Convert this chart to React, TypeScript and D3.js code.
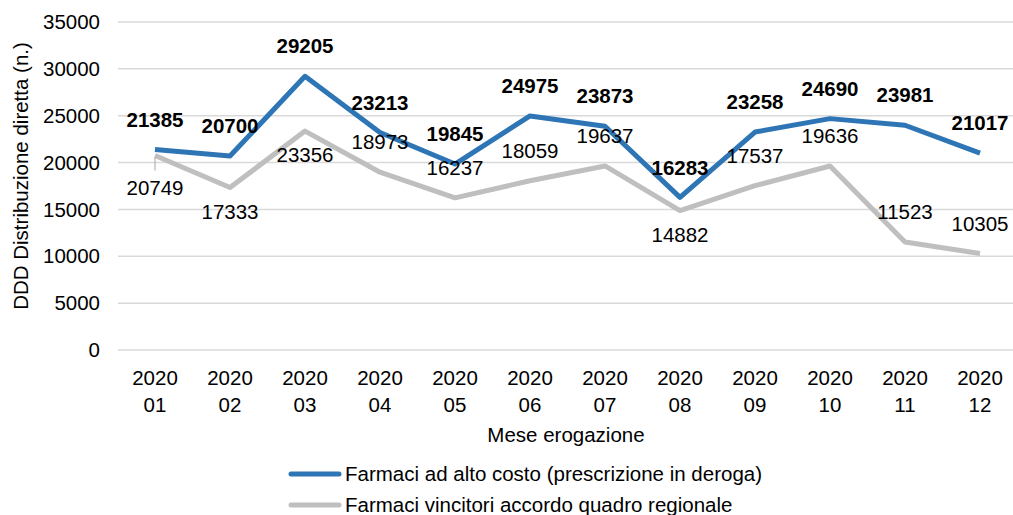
import React, { useEffect, useRef } from "react";
import * as d3 from "d3";

const months = ["01", "02", "03", "04", "05", "06", "07", "08", "09", "10", "11", "12"];
const year = "2020";
const altoCosto = [21385, 20700, 29205, 23213, 19845, 24975, 23873, 16283, 23258, 24690, 23981, 21017];
const vincitori = [20749, 17333, 23356, 18973, 16237, 18059, 19637, 14882, 17537, 19636, 11523, 10305];
// where Excel put the grey data labels
const vincitoriLabelPos = ["below", "below", "below", "above", "above", "above", "above", "below", "above", "above", "above", "above"];
const yTicks = [0, 5000, 10000, 15000, 20000, 25000, 30000, 35000];
const seriesNames = ["Farmaci ad alto costo (prescrizione in deroga)", "Farmaci vincitori accordo quadro regionale"];
const colors = ["#2E75B6", "#BFBFBF"];

export default function App() {
  const svgRef = useRef<SVGSVGElement>(null);

  useEffect(() => {
    const width = 1013;
    const font = "Liberation Sans, Arial, sans-serif";
    const fs = 20.5;
    const svg = d3.select(svgRef.current);
    svg.selectAll("*").remove();

    const x = d3.scalePoint<string>().domain(months).range([117.5, 1017.5]).padding(0.5);
    const y = d3.scaleLinear().domain([0, 35000]).range([350, 22]);

    // gridlines
    svg.append("g")
      .selectAll("line")
      .data(yTicks)
      .enter()
      .append("line")
      .attr("x1", 118)
      .attr("x2", width)
      .attr("y1", (d) => y(d))
      .attr("y2", (d) => y(d))
      .attr("stroke", "#D9D9D9")
      .attr("stroke-width", 1.5);

    // y tick labels
    svg.append("g")
      .selectAll("text")
      .data(yTicks)
      .enter()
      .append("text")
      .attr("x", 100)
      .attr("y", (d) => y(d))
      .attr("dy", "0.35em")
      .attr("text-anchor", "end")
      .attr("font-family", font)
      .attr("font-size", fs)
      .attr("fill", "#000")
      .text((d) => String(d));

    // x tick labels
    const xt = svg.append("g")
      .selectAll("text")
      .data(months)
      .enter()
      .append("text")
      .attr("x", (d) => x(d)!)
      .attr("text-anchor", "middle")
      .attr("font-family", font)
      .attr("font-size", fs)
      .attr("fill", "#000");
    xt.append("tspan").attr("x", (d) => x(d)!).attr("y", 385).text(year);
    xt.append("tspan").attr("x", (d) => x(d)!).attr("y", 412).text((d) => d);

    // axis titles
    svg.append("text")
      .attr("x", 566)
      .attr("y", 442)
      .attr("text-anchor", "middle")
      .attr("font-family", font)
      .attr("font-size", fs)
      .text("Mese erogazione");

    svg.append("text")
      .attr("transform", `translate(21,176) rotate(-90)`)
      .attr("dy", "0.35em")
      .attr("text-anchor", "middle")
      .attr("font-family", font)
      .attr("font-size", fs)
      .text("DDD Distribuzione diretta (n.)");

    const line = d3.line<number>()
      .x((d, i) => x(months[i])!)
      .y((d) => y(d));

    [vincitori, altoCosto].forEach((data, k) => {
      svg.append("path")
        .attr("d", line(data))
        .attr("fill", "none")
        .attr("stroke", k === 0 ? colors[1] : colors[0])
        .attr("stroke-width", 5)
        .attr("stroke-linejoin", "round");
    });

    // leader line for the first grey label
    svg.append("line")
      .attr("x1", x(months[0])!)
      .attr("x2", x(months[0])!)
      .attr("y1", y(vincitori[0]) + 2)
      .attr("y2", y(vincitori[0]) + 15)
      .attr("stroke", "#A6A6A6")
      .attr("stroke-width", 1);

    // grey labels
    svg.append("g")
      .selectAll("text")
      .data(vincitori)
      .enter()
      .append("text")
      .attr("x", (d, i) => x(months[i])!)
      .attr("y", (d, i) => {
        if (i === 0) return y(d) + 32;
        return vincitoriLabelPos[i] === "above" ? y(d) - 30 : y(d) + 24;
      })
      .attr("dy", "0.35em")
      .attr("text-anchor", "middle")
      .attr("font-family", font)
      .attr("font-size", fs)
      .attr("fill", "#000")
      .text((d) => String(d));

    // blue labels
    svg.append("g")
      .selectAll("text")
      .data(altoCosto)
      .enter()
      .append("text")
      .attr("x", (d, i) => x(months[i])!)
      .attr("y", (d) => y(d) - 30)
      .attr("dy", "0.35em")
      .attr("text-anchor", "middle")
      .attr("font-family", font)
      .attr("font-size", fs)
      .attr("font-weight", "bold")
      .attr("fill", "#000")
      .text((d) => String(d));

    // legend
    const legend = svg.append("g")
      .selectAll("g")
      .data(seriesNames)
      .enter()
      .append("g")
      .attr("transform", (d, i) => `translate(0,${474 + i * 31})`);
    legend.append("line")
      .attr("x1", 291)
      .attr("x2", 339)
      .attr("stroke", (d, i) => colors[i])
      .attr("stroke-width", 5)
      .attr("stroke-linecap", "round");
    legend.append("text")
      .attr("x", 345)
      .attr("dy", "0.35em")
      .attr("font-family", font)
      .attr("font-size", fs)
      .text((d) => d);
  }, []);

  return (
    <svg
      ref={svgRef}
      width={1013}
      height={515}
      style={{ position: "absolute", left: 0, top: 0, background: "#fff" }}
    />
  );
}
